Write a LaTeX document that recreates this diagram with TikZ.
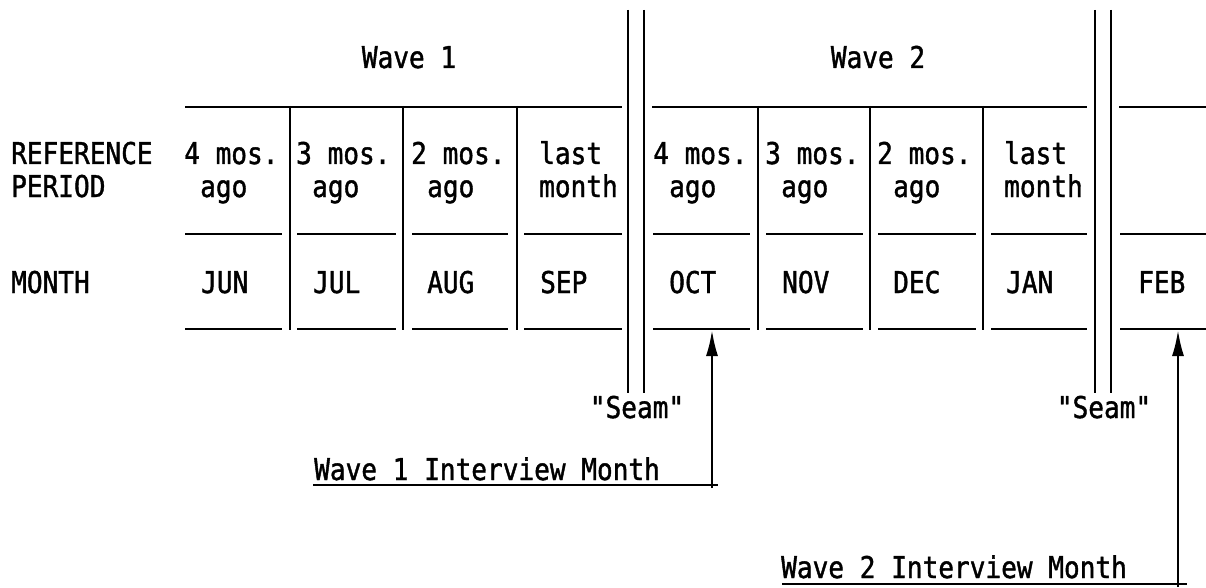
\documentclass[tikz,border=0pt]{standalone}
\usepackage{fontspec}
\newfontfamily\tw[FakeStretch=0.87,FakeBold=1.3]{DejaVu Sans Mono}
\usetikzlibrary{arrows.meta}
\begin{document}
\begin{tikzpicture}[x=1pt,y=-1pt,
  rule/.style={line width=2.8pt},
  arr/.style={line width=2.4pt,-{Latex[length=26pt,width=12pt]}},
  lbl/.style={font=\tw\fontsize{30}{34}\selectfont,inner sep=0pt,anchor=base west},
  clbl/.style={lbl,anchor=base}]
\useasboundingbox (0,0) rectangle (1206,588);

% row labels
\node[lbl] (refA) at (11,164) {REFERENCE};
\node[lbl] (refB) at (11,197) {PERIOD};
\node[lbl] (mon)  at (11,293) {MONTH};

% wave headers
\node[clbl] (w1) at (409,68) {Wave 1};
\node[clbl] (w2) at (878,68) {Wave 2};

% horizontal rules
\draw[rule] (185,107) -- (622,107);
\draw[rule] (652,107) -- (1087,107);
\draw[rule] (1119,107) -- (1206,107);
\foreach \y in {234,329}{
  \foreach \a/\b in {185/282,297/396,412/508,524/622,653/750,766/863,878/976,991/1087,1120/1206}
    \draw[rule] (\a,\y) -- (\b,\y);
}
% column dividers
\foreach \x in {290,403,517,758,870,983}
  \draw[rule] (\x,106) -- (\x,330);
% seams
\foreach \x in {628,644,1095,1111}
  \draw[rule] (\x,10) -- (\x,393);

% cell texts
\foreach \i/\x/\ta/\tb in {1/184/4 mos./ago,2/296/3 mos./ago,3/411/2 mos./ago,5/653/4 mos./ago,6/765/3 mos./ago,7/877/2 mos./ago}{
  \node[lbl] (c\i a) at (\x,164) {\ta};
  \node[lbl] (c\i b) at (\x+16,197) {\tb};
}
\foreach \i/\x in {4/539,8/1004}{
  \node[lbl] (c\i a) at (\x,164) {last};
  \node[lbl] (c\i b) at (\x,197) {month};
}
% months
\foreach \i/\x/\t in {1/201/JUN,2/313/JUL,3/427/AUG,4/540/SEP,5/669/OCT,6/782/NOV,7/893/DEC,8/1006/JAN,9/1138/FEB}
  \node[lbl] (m\i) at (\x,293) {\t};

% seam labels
\node[clbl] (s1) at (637,418) {"Seam"};
\node[clbl] (s2) at (1104,418) {"Seam"};

% interview month labels
\node[lbl] (i1) at (314,480) {Wave 1 Interview Month};
\node[lbl] (i2) at (781,578) {Wave 2 Interview Month};
\coordinate (u1a) at (313,485);
\coordinate (u1b) at (718,485);
\coordinate (u2a) at (782,584);
\coordinate (u2b) at (1187,584);
\draw[line width=2.4pt] (u1a) -- (u1b);
\draw[line width=2.4pt] (u2a) -- (u2b);

% arrows
\coordinate (a1s) at (712,488);
\coordinate (a1t) at (712,330);
\coordinate (a2s) at (1178,587);
\coordinate (a2t) at (1178,330);
\draw[arr] (a1s) -- (a1t);
\draw[arr] (a2s) -- (a2t);
\end{tikzpicture}
\end{document}
